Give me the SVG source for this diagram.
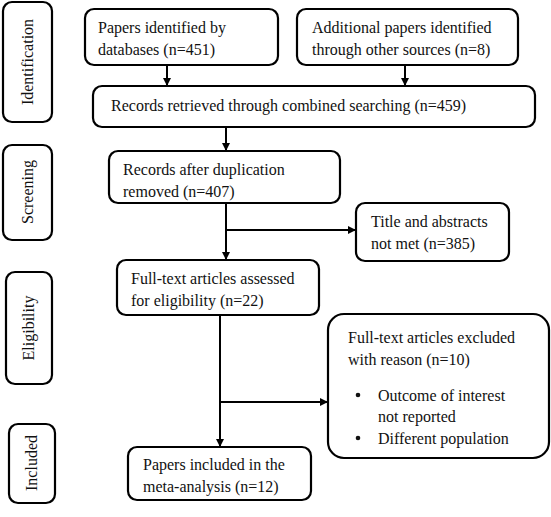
<svg xmlns="http://www.w3.org/2000/svg" width="551" height="517" viewBox="0 0 551 517">
<style>
.b{fill:#fff;stroke:#000;stroke-width:2.2}
.t{font-family:'Liberation Serif','Times New Roman',Times,'DejaVu Serif',serif;font-size:16px;fill:#111}
.c{fill:none;stroke:#000;stroke-width:2}
</style>
<defs>
<marker id="a" markerWidth="8" markerHeight="8" refX="7" refY="4" orient="auto" markerUnits="userSpaceOnUse">
<path d="M0,0 L8,4 L0,8 Z" fill="#000"/>
</marker>
</defs>
<rect width="551" height="517" fill="#fff"/>
<g id="phase-identification"><rect class="b" x="3" y="2" width="49" height="120" rx="9"/><text class="t" transform="translate(33,62) rotate(-90)" text-anchor="middle">Identification</text></g>
<g id="phase-screening"><rect class="b" x="3" y="145" width="49" height="95" rx="9"/><text class="t" transform="translate(33,192) rotate(-90)" text-anchor="middle">Screening</text></g>
<g id="phase-eligibility"><rect class="b" x="6" y="272" width="46" height="112" rx="9"/><text class="t" transform="translate(34,328) rotate(-90)" text-anchor="middle">Eligibility</text></g>
<g id="phase-included"><rect class="b" x="9" y="424" width="46" height="79" rx="9"/><text class="t" transform="translate(37,463) rotate(-90)" text-anchor="middle">Included</text></g>
<g id="n-databases"><rect class="b" x="85" y="9" width="193" height="56" rx="9"/><text class="t" x="98" y="33">Papers identified by</text><text class="t" x="98" y="55">databases (n=451)</text></g>
<g id="n-other"><rect class="b" x="297" y="9" width="221" height="56" rx="9"/><text class="t" x="312" y="33">Additional papers identified</text><text class="t" x="312" y="55">through other sources (n=8)</text></g>
<g id="n-combined"><rect class="b" x="93" y="86" width="442" height="41" rx="9"/><text class="t" x="111" y="111">Records retrieved through combined searching (n=459)</text></g>
<g id="n-dedup"><rect class="b" x="109" y="151" width="231" height="52" rx="9"/><text class="t" x="123" y="175">Records after duplication</text><text class="t" x="123" y="197">removed (n=407)</text></g>
<g id="n-title"><rect class="b" x="356" y="203" width="153" height="58" rx="9"/><text class="t" x="371" y="227">Title and abstracts</text><text class="t" x="371" y="249">not met (n=385)</text></g>
<g id="n-fulltext"><rect class="b" x="117" y="260" width="202" height="55" rx="9"/><text class="t" x="131" y="284">Full-text articles assessed</text><text class="t" x="131" y="306">for eligibility (n=22)</text></g>
<g id="n-excluded"><rect class="b" x="328" y="314" width="221" height="144" rx="16"/><text class="t" x="348" y="343">Full-text articles excluded</text><text class="t" x="348" y="365">with reason (n=10)</text><circle cx="358" cy="395" r="2.3" fill="#111"/><text class="t" x="378" y="401">Outcome of interest</text><text class="t" x="378" y="422">not reported</text><circle cx="358" cy="438" r="2.3" fill="#111"/><text class="t" x="378" y="444">Different population</text></g>
<g id="n-included"><rect class="b" x="128" y="447" width="183" height="53" rx="9"/><text class="t" x="143" y="470">Papers included in the</text><text class="t" x="143" y="492">meta-analysis (n=12)</text></g>
<g id="connectors">
<path class="c" d="M167,65 V85" marker-end="url(#a)"/>
<path class="c" d="M405,65 V85" marker-end="url(#a)"/>
<path class="c" d="M226,127 V150" marker-end="url(#a)"/>
<path class="c" d="M226,203 V259" marker-end="url(#a)"/>
<path class="c" d="M226,230 H355" marker-end="url(#a)"/>
<path class="c" d="M220,315 V446" marker-end="url(#a)"/>
<path class="c" d="M220,402 H327" marker-end="url(#a)"/>
</g>
</svg>
